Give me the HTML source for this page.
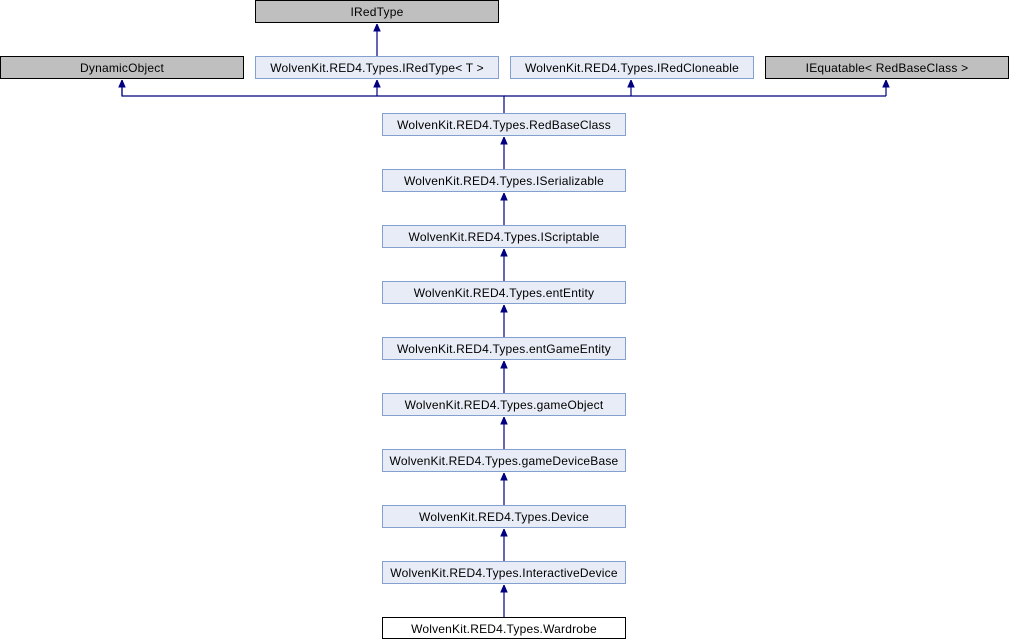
<!DOCTYPE html>
<html><head><style>body{margin:0;background:#fff}svg{display:block}text{font-family:"Liberation Sans",sans-serif;font-size:12px;fill:#000;letter-spacing:0.2px}</style></head><body>
<svg width="1010" height="640" viewBox="0 0 1010 640" xmlns="http://www.w3.org/2000/svg">
<defs>
<marker id="a" markerWidth="8" markerHeight="8" refX="4" refY="0" orient="0" markerUnits="userSpaceOnUse"><path d="M1,7 L4,0 L7,7 Z" fill="#000080" stroke="#000080"/></marker>
</defs>
<g stroke="#000080" stroke-width="1.2" fill="none">
<line x1="377" y1="56" x2="377" y2="24" marker-end="url(#a)"/>
<polyline points="504,113 504,96 122,96 122,80" />
<line x1="122" y1="96" x2="122" y2="80" marker-end="url(#a)"/>
<line x1="377" y1="96" x2="377" y2="80" marker-end="url(#a)"/>
<line x1="504" y1="96" x2="886" y2="96"/>
<line x1="631" y1="96" x2="631" y2="80" marker-end="url(#a)"/>
<line x1="886" y1="96" x2="886" y2="80" marker-end="url(#a)"/>
<line x1="504" y1="169" x2="504" y2="137" marker-end="url(#a)"/>
<line x1="504" y1="225" x2="504" y2="193" marker-end="url(#a)"/>
<line x1="504" y1="281" x2="504" y2="249" marker-end="url(#a)"/>
<line x1="504" y1="337" x2="504" y2="305" marker-end="url(#a)"/>
<line x1="504" y1="393" x2="504" y2="361" marker-end="url(#a)"/>
<line x1="504" y1="449" x2="504" y2="417" marker-end="url(#a)"/>
<line x1="504" y1="505" x2="504" y2="473" marker-end="url(#a)"/>
<line x1="504" y1="561" x2="504" y2="529" marker-end="url(#a)"/>
<line x1="504" y1="617" x2="504" y2="585" marker-end="url(#a)"/>
</g>
<g stroke-width="1">
<rect x="255.5" y="0.5" width="243" height="22" fill="#bfbfbf" stroke="#000"/>
<rect x="0.5" y="56.5" width="243" height="22" fill="#bfbfbf" stroke="#000"/>
<rect x="255.5" y="56.5" width="243" height="22" fill="#e8ecf6" stroke="#84a0d0"/>
<rect x="510.5" y="56.5" width="243" height="22" fill="#e8ecf6" stroke="#84a0d0"/>
<rect x="765.5" y="56.5" width="243" height="22" fill="#bfbfbf" stroke="#000"/>
<rect x="382.5" y="113.5" width="243" height="22" fill="#e8ecf6" stroke="#84a0d0"/>
<rect x="382.5" y="169.5" width="243" height="22" fill="#e8ecf6" stroke="#84a0d0"/>
<rect x="382.5" y="225.5" width="243" height="22" fill="#e8ecf6" stroke="#84a0d0"/>
<rect x="382.5" y="281.5" width="243" height="22" fill="#e8ecf6" stroke="#84a0d0"/>
<rect x="382.5" y="337.5" width="243" height="22" fill="#e8ecf6" stroke="#84a0d0"/>
<rect x="382.5" y="393.5" width="243" height="22" fill="#e8ecf6" stroke="#84a0d0"/>
<rect x="382.5" y="449.5" width="243" height="22" fill="#e8ecf6" stroke="#84a0d0"/>
<rect x="382.5" y="505.5" width="243" height="22" fill="#e8ecf6" stroke="#84a0d0"/>
<rect x="382.5" y="561.5" width="243" height="22" fill="#e8ecf6" stroke="#84a0d0"/>
<rect x="382.5" y="617.5" width="243" height="21" fill="#fff" stroke="#000"/>
</g>
<g text-anchor="middle">
<text x="377" y="16">IRedType</text>
<text x="122" y="72">DynamicObject</text>
<text x="377" y="72">WolvenKit.RED4.Types.IRedType&lt; T &gt;</text>
<text x="632" y="72">WolvenKit.RED4.Types.IRedCloneable</text>
<text x="887" y="72">IEquatable&lt; RedBaseClass &gt;</text>
<text x="504" y="129">WolvenKit.RED4.Types.RedBaseClass</text>
<text x="504" y="185">WolvenKit.RED4.Types.ISerializable</text>
<text x="504" y="241">WolvenKit.RED4.Types.IScriptable</text>
<text x="504" y="297">WolvenKit.RED4.Types.entEntity</text>
<text x="504" y="353">WolvenKit.RED4.Types.entGameEntity</text>
<text x="504" y="409">WolvenKit.RED4.Types.gameObject</text>
<text x="504" y="465">WolvenKit.RED4.Types.gameDeviceBase</text>
<text x="504" y="521">WolvenKit.RED4.Types.Device</text>
<text x="504" y="577">WolvenKit.RED4.Types.InteractiveDevice</text>
<text x="504" y="633">WolvenKit.RED4.Types.Wardrobe</text>
</g>
</svg>
</body></html>
